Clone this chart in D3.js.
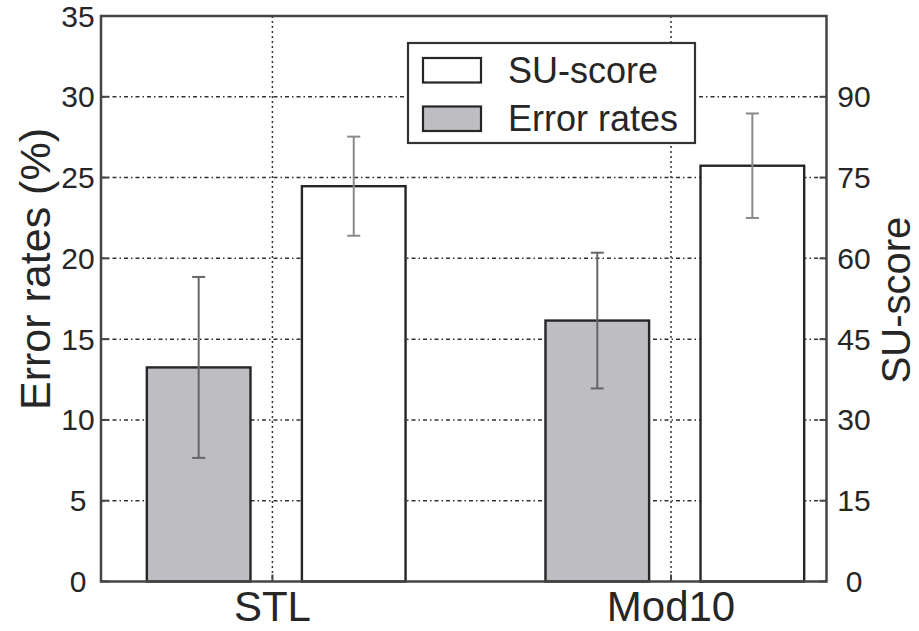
<!DOCTYPE html>
<html>
<head>
<meta charset="utf-8">
<script src="https://cdn.jsdelivr.net/npm/d3@7"></script>
<style>
  html, body { margin: 0; padding: 0; background: #fff; }
  svg { display: block; font-family: "Liberation Sans", Arial, Helvetica, sans-serif; }
</style>
</head>
<body>
<svg id="chart" width="919" height="631"></svg>
<script>
// Categories and measured values
const categories = ["STL", "Mod10"];
const errorRates = [13.25, 16.15];      // %
const errorRatesErr = [5.6, 4.2];       // ± %
const suScores = [73.4, 77.2];          // SU-score
const suScoresErr = [9.2, 9.7];         // ± SU-score

const leftTicks = [0, 5, 10, 15, 20, 25, 30, 35];
const rightTicks = [0, 15, 30, 45, 60, 75, 90];
const legendLabels = ["SU-score", "Error rates"];

const svg = d3.select("#chart");

const plot = { left: 101, right: 826.5, top: 16, bottom: 581.5 };

// Category index positions (grid lines sit at each category)
const x = d3.scaleLinear().domain([-0.43, 1.39]).range([plot.left, plot.right]);
const yLeft = d3.scaleLinear().domain([0, 35]).range([plot.bottom, plot.top]);
const yRight = d3.scaleLinear().domain([0, 105]).range([plot.bottom, plot.top]);

const barW = 0.26;
const grayOffset = -0.185;
const whiteOffset = 0.204;
const barFill = "#bdbdc2";
const ink = "#262626";

// Horizontal grid lines (dash-dot)
svg.append("g")
  .selectAll("line")
  .data(leftTicks.filter(t => t > 0 && t < 35))
  .join("line")
  .attr("x1", plot.left).attr("x2", plot.right)
  .attr("y1", d => yLeft(d)).attr("y2", d => yLeft(d))
  .attr("stroke", "#333").attr("stroke-width", 1.5)
  .attr("stroke-dasharray", "4,3,1.5,3");

// Vertical grid lines at categories (dotted)
svg.append("g")
  .selectAll("line")
  .data(categories)
  .join("line")
  .attr("x1", (d, i) => x(i)).attr("x2", (d, i) => x(i))
  .attr("y1", plot.top).attr("y2", plot.bottom)
  .attr("stroke", "#333").attr("stroke-width", 1.5)
  .attr("stroke-dasharray", "2,3");

// Error-rate bars (left axis)
svg.append("g")
  .selectAll("rect")
  .data(errorRates)
  .join("rect")
  .attr("x", (d, i) => x(i + grayOffset - barW / 2))
  .attr("width", (d, i) => x(i + grayOffset + barW / 2) - x(i + grayOffset - barW / 2))
  .attr("y", d => yLeft(d))
  .attr("height", d => yLeft(0) - yLeft(d))
  .attr("fill", barFill).attr("stroke", ink).attr("stroke-width", 2.4);

// SU-score bars (right axis)
svg.append("g")
  .selectAll("rect")
  .data(suScores)
  .join("rect")
  .attr("x", (d, i) => x(i + whiteOffset - barW / 2))
  .attr("width", (d, i) => x(i + whiteOffset + barW / 2) - x(i + whiteOffset - barW / 2))
  .attr("y", d => yRight(d))
  .attr("height", d => yRight(0) - yRight(d))
  .attr("fill", "#fff").attr("stroke", ink).attr("stroke-width", 2.4);

// Error bars
function errorBars(values, errs, offset, scale, color) {
  const g = svg.append("g").attr("stroke", color).attr("stroke-width", 2);
  values.forEach((v, i) => {
    const cx = x(i + offset);
    g.append("line").attr("x1", cx).attr("x2", cx)
      .attr("y1", scale(v - errs[i])).attr("y2", scale(v + errs[i]));
    [v - errs[i], v + errs[i]].forEach(e => {
      g.append("line").attr("x1", cx - 6.5).attr("x2", cx + 6.5)
        .attr("y1", scale(e)).attr("y2", scale(e));
    });
  });
}
errorBars(errorRates, errorRatesErr, grayOffset, yLeft, "#666");
errorBars(suScores, suScoresErr, whiteOffset, yRight, "#8a8a8a");

// Frame
svg.append("rect")
  .attr("x", plot.left).attr("y", plot.top)
  .attr("width", plot.right - plot.left).attr("height", plot.bottom - plot.top)
  .attr("fill", "none").attr("stroke", "#444").attr("stroke-width", 2.5);

// Inward tick marks
const tickG = svg.append("g").attr("stroke", "#444").attr("stroke-width", 2);
leftTicks.forEach(t => {
  tickG.append("line").attr("x1", plot.left).attr("x2", plot.left + 8)
    .attr("y1", yLeft(t)).attr("y2", yLeft(t));
});
rightTicks.forEach(t => {
  tickG.append("line").attr("x1", plot.right - 7).attr("x2", plot.right)
    .attr("y1", yRight(t)).attr("y2", yRight(t));
});
categories.forEach((c, i) => {
  tickG.append("line").attr("x1", x(i)).attr("x2", x(i))
    .attr("y1", plot.bottom).attr("y2", plot.bottom - 7);
});

// Tick labels
svg.append("g")
  .selectAll("text")
  .data(leftTicks)
  .join("text")
  .attr("x", 78).attr("y", d => yLeft(d))
  .attr("dy", "0.35em")
  .attr("text-anchor", "middle")
  .attr("font-size", 30).attr("fill", ink)
  .text(d => d);

svg.append("g")
  .selectAll("text")
  .data(rightTicks)
  .join("text")
  .attr("x", 854).attr("y", d => yRight(d))
  .attr("dy", "0.35em")
  .attr("text-anchor", "middle")
  .attr("font-size", 30).attr("fill", ink)
  .text(d => d);

// Category labels
svg.append("g")
  .selectAll("text")
  .data(categories)
  .join("text")
  .attr("x", (d, i) => x(i)).attr("y", 621)
  .attr("text-anchor", "middle")
  .attr("font-size", 42).attr("fill", ink)
  .text(d => d);

// Axis titles
svg.append("text")
  .attr("transform", "translate(50,269) rotate(-90)")
  .attr("text-anchor", "middle")
  .attr("font-size", 43).attr("fill", ink)
  .text("Error rates (%)");

svg.append("text")
  .attr("transform", "translate(910,300) rotate(-90)")
  .attr("text-anchor", "middle")
  .attr("font-size", 40).attr("fill", ink)
  .text("SU-score");

// Legend
const legend = svg.append("g");
legend.append("rect")
  .attr("x", 408).attr("y", 43).attr("width", 287).attr("height", 100)
  .attr("fill", "#fff").attr("stroke", "#333").attr("stroke-width", 2.2);
const swatchFills = ["#fff", barFill];
legendLabels.forEach((lab, i) => {
  const yy = 58 + i * 48.5;
  legend.append("rect")
    .attr("x", 423).attr("y", yy).attr("width", 58).attr("height", 24.5)
    .attr("fill", swatchFills[i]).attr("stroke", ink).attr("stroke-width", 2.2);
  legend.append("text")
    .attr("x", 508).attr("y", yy + 12).attr("dy", "0.36em")
    .attr("font-size", 36).attr("fill", ink)
    .text(lab);
});
</script>
</body>
</html>
